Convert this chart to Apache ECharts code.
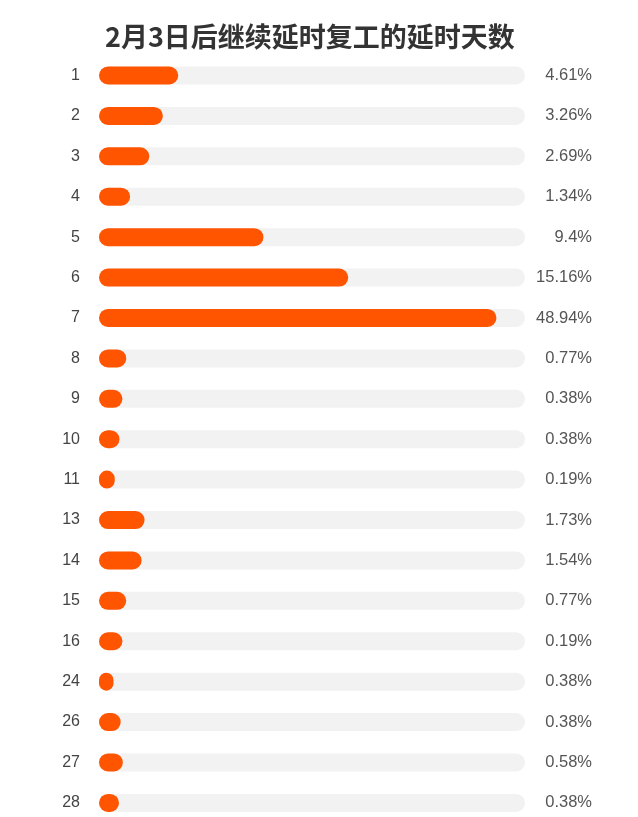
<!DOCTYPE html>
<html>
<head>
<meta charset="utf-8">
<script src="https://cdn.jsdelivr.net/npm/echarts@6/dist/echarts.min.js"></script>
<style>html,body{margin:0;padding:0;background:#fff;}#c{width:638px;height:817px;}</style>
</head>
<body>
<div id="c"></div>
<script>
var title = '2月3日后继续延时复工的延时天数';
var categories = ['1','2','3','4','5','6','7','8','9','10','11','13','14','15','16','24','26','27','28'];
// bar lengths (share of the full track, track = 100)
var barValues = [18.6, 15.0, 11.8, 7.3, 38.6, 58.5, 93.3, 6.4, 5.5, 4.8, 3.7, 10.7, 10.0, 6.4, 5.5, 3.4, 5.1, 5.6, 4.7];
// percentage labels as printed
var valueLabels = ['4.61%','3.26%','2.69%','1.34%','9.4%','15.16%','48.94%','0.77%','0.38%','0.38%','0.19%','1.73%','1.54%','0.77%','0.19%','0.38%','0.38%','0.58%','0.38%'];

var chart = echarts.init(document.getElementById('c'));
chart.setOption({
  animation: false,
  backgroundColor: '#fff',
  title: {
    text: title,
    left: 100,
    top: 18,
    textStyle: {fontFamily: '"Noto Sans CJK SC", sans-serif', fontSize: 27, fontWeight: 'bold', color: '#333'}
  },
  grid: {left: 99, right: 113, top: 75.5, bottom: 14.1},
  xAxis: {type: 'value', min: 0, max: 100, show: false},
  yAxis: [{
    type: 'category', data: categories, inverse: true, boundaryGap: false,
    axisLine: {show: false}, axisTick: {show: false},
    axisLabel: {margin: 19, fontSize: 16, color: '#444', fontFamily: '"Liberation Sans", Arial, sans-serif'}
  }, {
    type: 'category', data: valueLabels, inverse: true, position: 'right', boundaryGap: false,
    axisLine: {show: false}, axisTick: {show: false},
    axisLabel: {margin: 67, align: 'right', fontSize: 16.5, color: '#555', fontFamily: '"Liberation Sans", Arial, sans-serif'}
  }],
  series: [{
    type: 'bar',
    yAxisIndex: 0,
    data: barValues,
    barWidth: 18,
    showBackground: true,
    backgroundStyle: {color: '#f2f2f2', borderRadius: 9},
    itemStyle: {color: '#ff5500', borderRadius: 9}
  }]
});
</script>
</body>
</html>
